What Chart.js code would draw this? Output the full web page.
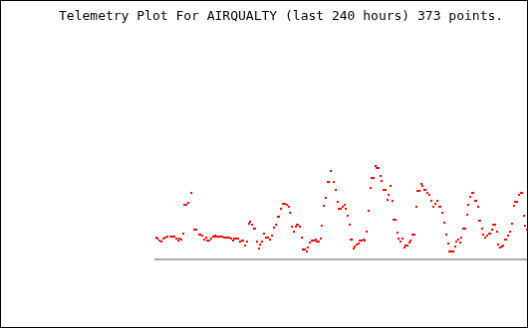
<!DOCTYPE html>
<html>
<head>
<meta charset="utf-8">
<script src="https://cdn.jsdelivr.net/npm/chart.js@4.4.1/dist/chart.umd.min.js"></script>
<style>
  html, body { margin: 0; padding: 0; background: #fff; }
  #telemetry { display: block; border: 1px solid #000; }
</style>
</head>
<body>
<canvas id="telemetry" width="528" height="328"></canvas>
<script>
// hours since start of the 240 hour window
const hours = [
  0.6, 1.3, 2.6, 3.9, 5.1, 6.4, 7.7, 9.7, 10.9, 12.2, 13.5, 14.8, 15.4, 16.7, 18.0,
  18.7, 19.9, 21.2, 23.2, 25.1, 26.4, 28.3, 29.0, 30.2, 31.5, 32.8, 33.5, 34.7, 36.0,
  37.3, 38.0, 38.6, 39.2, 40.5, 41.8, 43.1, 44.4, 45.7, 47.0, 47.6, 48.9, 50.2, 50.8,
  52.1, 53.4, 54.7, 56.0, 56.6, 57.9, 59.2, 60.5, 61.1, 62.4, 63.7, 64.3, 65.6, 66.9,
  67.6, 68.8, 70.1, 71.4, 72.7, 74.0, 75.3, 76.6, 77.9, 79.1, 79.8, 81.1, 82.4, 83.6,
  84.9, 86.2, 86.9, 88.1, 89.4, 90.7, 91.4, 92.0, 93.3, 94.6, 95.2, 96.5, 97.8, 98.4,
  99.7, 101.0, 102.3, 103.6, 104.2, 105.5, 106.8, 107.4, 108.7, 110.0, 111.3, 112.0,
  113.2, 115.2, 116.5, 117.7, 118.4, 119.7, 121.0, 122.2, 122.9, 124.2, 125.5, 126.1,
  126.8, 128.0, 128.7, 130.0, 131.3, 131.9, 133.2, 134.5, 135.1, 136.4, 137.7, 139.0,
  139.6, 140.9, 142.2, 142.8, 144.1, 145.4, 146.1, 147.3, 148.6, 149.9, 150.6, 151.8,
  153.1, 153.8, 155.1, 156.3, 157.0, 158.3, 159.6, 160.8, 161.5, 162.8, 164.1, 164.7,
  166.0, 167.3, 168.6, 169.2, 170.5, 171.8, 172.4, 173.7, 174.4, 175.6, 176.9, 178.2,
  179.5, 180.8, 182.1, 183.4, 184.0, 185.3, 186.6, 187.9, 189.2, 189.8, 191.1, 192.4,
  193.7, 194.3, 195.6, 196.9, 197.5, 198.8, 200.1, 201.4, 202.0, 203.3, 204.6, 205.2,
  206.5, 207.2, 208.5, 209.1, 209.7, 211.0, 211.7, 213.0, 214.3, 215.5, 216.2, 217.5,
  218.1, 219.4, 220.7, 221.3, 222.6, 223.9, 224.5, 225.8, 226.5, 227.8, 229.1, 230.3,
  231.6, 232.3, 233.6, 234.8, 236.1, 236.8, 238.1, 238.7, 240.0
];

const readings = [
  22, 21, 19, 18, 21, 22, 23, 23, 23, 23, 21, 19, 21, 20, 26,
  55, 55, 57, 67, 30, 30, 25, 25, 24, 20, 22, 19, 19, 21,
  23, 23, 24, 23, 23, 23, 23, 22, 22, 22, 22, 21, 19, 21,
  21, 21, 18, 19, 19, 14, 18, 36, 38, 35, 31, 31, 18, 11,
  15, 18, 26, 22, 22, 20, 24, 32, 35, 43, 43, 51, 56, 56,
  55, 53, 47, 33, 28, 33, 35, 35, 33, 22, 10, 10, 8, 12,
  17, 19, 19, 20, 18, 18, 21, 34, 54, 62, 78, 78,
  89, 78, 70, 58, 51, 51, 53, 55, 51, 44, 35, 20,
  20, 11, 13, 15, 16, 19, 19, 20, 19, 28, 49, 72,
  82, 82, 94, 92, 92, 84, 79, 70, 70, 60, 65, 74,
  59, 40, 40, 27, 21, 18, 21, 12, 14, 14, 17, 19,
  25, 25, 53, 69, 69, 76, 74, 70, 70, 67, 65, 59,
  53, 56, 59, 53, 53, 47, 37, 25, 16, 8, 8, 8,
  13, 18, 20, 17, 22, 31, 31, 45, 55, 63, 67, 67,
  59, 59, 53, 39, 39, 31, 25, 22, 24, 26, 26, 30,
  35, 35, 28, 15, 12, 13, 14, 20, 20, 24, 28, 36,
  54, 58, 58, 65, 67, 67, 44, 34, 30
];

const titleText = 'Telemetry Plot For AIRQUALTY (last 240 hours) 373 points.';
const hourRange = [0, 240];
const valueRange = [0, 200];

const points = hours.map((h, i) => ({ x: h, y: readings[i] }));

const ctx = document.getElementById('telemetry').getContext('2d');
new Chart(ctx, {
  type: 'scatter',
  data: {
    datasets: [{
      data: points,
      backgroundColor: '#ff0000',
      borderWidth: 0,
      pointStyle: 'rect',
      pointRadius: 1.42,
      pointHoverRadius: 1.42,
      clip: false
    }]
  },
  options: {
    responsive: false,
    animation: false,
    events: [],
    layout: {
      autoPadding: false,
      padding: { left: 58, right: 0, top: 0, bottom: 68 }
    },
    scales: {
      x: {
        type: 'linear',
        min: hourRange[0],
        max: hourRange[1],
        ticks: { display: false },
        grid: { display: false },
        border: { display: true, color: '#aaaaaa', width: 2 },
        afterFit: (scale) => { scale.height = 0; }
      },
      y: {
        min: valueRange[0],
        max: valueRange[1],
        ticks: { display: false },
        grid: { display: false },
        border: { display: false },
        afterFit: (scale) => { scale.width = 97; }
      }
    },
    plugins: {
      legend: { display: false },
      tooltip: { enabled: false },
      title: {
        display: true,
        text: titleText,
        align: 'start',
        color: '#000',
        font: { family: 'DejaVu Sans Mono', size: 13, weight: 'normal', lineHeight: '16px' },
        padding: { top: 8, bottom: 36 }
      }
    }
  }
});
</script>
</body>
</html>
